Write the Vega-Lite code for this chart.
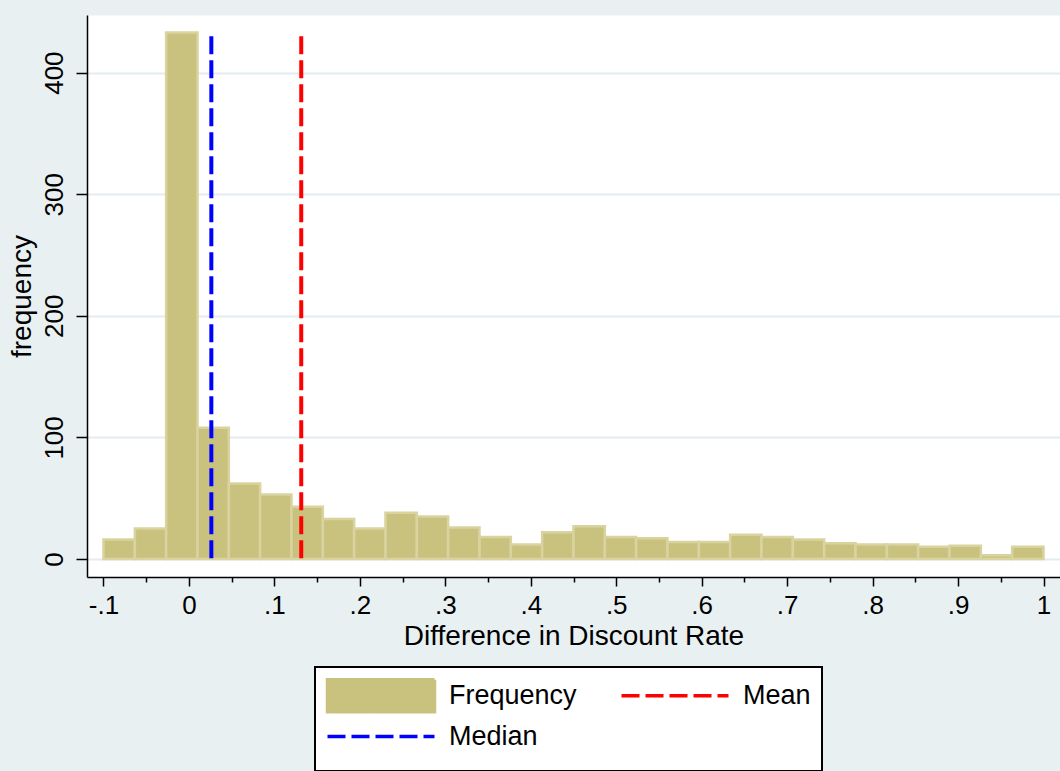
{
  "$schema": "https://vega.github.io/schema/vega-lite/v6.json",
  "width": 973,
  "height": 562,
  "autosize": {"type": "none"},
  "padding": {"left": 87, "top": 15, "right": 0, "bottom": 194},
  "background": "#E8F0F2",
  "config": {
    "view": {"fill": "white", "stroke": "transparent"},
    "font": "Liberation Sans"
  },
  "datasets": {
    "bins": [
      {"bin_start": -0.1, "bin_end": -0.0633, "count": 16},
      {"bin_start": -0.0633, "bin_end": -0.0267, "count": 25},
      {"bin_start": -0.0267, "bin_end": 0.01, "count": 433},
      {"bin_start": 0.01, "bin_end": 0.0467, "count": 108},
      {"bin_start": 0.0467, "bin_end": 0.0833, "count": 62},
      {"bin_start": 0.0833, "bin_end": 0.12, "count": 53},
      {"bin_start": 0.12, "bin_end": 0.1567, "count": 43},
      {"bin_start": 0.1567, "bin_end": 0.1933, "count": 33},
      {"bin_start": 0.1933, "bin_end": 0.23, "count": 25},
      {"bin_start": 0.23, "bin_end": 0.2667, "count": 38},
      {"bin_start": 0.2667, "bin_end": 0.3033, "count": 35},
      {"bin_start": 0.3033, "bin_end": 0.34, "count": 26},
      {"bin_start": 0.34, "bin_end": 0.3767, "count": 18},
      {"bin_start": 0.3767, "bin_end": 0.4133, "count": 12},
      {"bin_start": 0.4133, "bin_end": 0.45, "count": 22},
      {"bin_start": 0.45, "bin_end": 0.4867, "count": 27},
      {"bin_start": 0.4867, "bin_end": 0.5233, "count": 18},
      {"bin_start": 0.5233, "bin_end": 0.56, "count": 17},
      {"bin_start": 0.56, "bin_end": 0.5967, "count": 14},
      {"bin_start": 0.5967, "bin_end": 0.6333, "count": 14},
      {"bin_start": 0.6333, "bin_end": 0.67, "count": 20},
      {"bin_start": 0.67, "bin_end": 0.7067, "count": 18},
      {"bin_start": 0.7067, "bin_end": 0.7433, "count": 16},
      {"bin_start": 0.7433, "bin_end": 0.78, "count": 13},
      {"bin_start": 0.78, "bin_end": 0.8167, "count": 12},
      {"bin_start": 0.8167, "bin_end": 0.8533, "count": 12},
      {"bin_start": 0.8533, "bin_end": 0.89, "count": 10},
      {"bin_start": 0.89, "bin_end": 0.9267, "count": 11},
      {"bin_start": 0.9267, "bin_end": 0.9633, "count": 3},
      {"bin_start": 0.9633, "bin_end": 1.0, "count": 10}
    ],
    "stats": [
      {"stat": "Mean", "value": 0.1314, "top": 430, "bottom": 0},
      {"stat": "Median", "value": 0.0262, "top": 430, "bottom": 0}
    ]
  },
  "layer": [
    {
      "data": {"name": "bins"},
      "mark": {"type": "bar", "orient": "vertical", "stroke": "#D9D3A0", "strokeWidth": 2.5, "opacity": 1},
      "encoding": {
        "x": {
          "field": "bin_start",
          "type": "quantitative",
          "scale": {"domain": [-0.1193, 1.0193], "nice": false, "zero": false, "padding": 0},
          "axis": {
            "orient": "bottom",
            "values": [-0.1, 0, 0.1, 0.2, 0.3, 0.4, 0.5, 0.6, 0.7, 0.8, 0.9, 1],
            "labelExpr": "datum.value == 0 ? '0' : datum.value == 1 ? '1' : (datum.value < 0 ? '-' : '') + replace(format(abs(datum.value), '.1f'), '0.', '.')",
            "grid": false,
            "tickSize": 9,
            "tickWidth": 1.5,
            "tickColor": "black",
            "domainColor": "black",
            "domainWidth": 1.5,
            "labelFontSize": 26,
            "labelColor": "black",
            "labelPadding": 6,
            "labelFlush": false,
            "labelOverlap": false,
            "title": "Difference in Discount Rate",
            "titleFontSize": 28,
            "titleFontWeight": "normal",
            "titleColor": "black",
            "titlePadding": 4
          }
        },
        "x2": {"field": "bin_end"},
        "y": {
          "field": "count",
          "type": "quantitative",
          "scale": {"domain": [-14.8, 447.4], "nice": false, "zero": false, "padding": 0},
          "axis": {
            "values": [0, 100, 200, 300, 400],
            "grid": true,
            "gridColor": "#E3ECEF",
            "gridWidth": 2,
            "tickSize": 11,
            "tickWidth": 1.5,
            "tickColor": "black",
            "domainColor": "black",
            "domainWidth": 1.5,
            "labelAngle": -90,
            "labelAlign": "center",
            "labelBaseline": "alphabetic",
            "labelFontSize": 26,
            "labelColor": "black",
            "labelPadding": 14,
            "labelFlush": false,
            "title": "frequency",
            "titleFontSize": 28,
            "titleFontWeight": "normal",
            "titleColor": "black",
            "titlePadding": 5
          }
        },
        "y2": {"datum": 0},
        "color": {
          "datum": "Frequency",
          "type": "nominal",
          "title": null,
          "scale": {"domain": ["Frequency", "Mean", "Median"], "range": ["#C9C27F", "#FF0000", "#0000FF"]},
          "legend": {
            "title": null,
            "orient": "none",
            "legendX": 228,
            "legendY": 652,
            "direction": "horizontal",
            "columns": 2,
            "columnPadding": 37,
            "rowPadding": -8,
            "symbolSize": 11449,
            "symbolType": "stroke",
            "labelFontSize": 27,
            "labelColor": "black",
            "labelOffset": 16,
            "labelLimit": 0,
            "padding": 11,
            "strokeColor": "black",
            "fillColor": "white",
            "encode": {
              "symbols": {
                "update": {
                  "x": {"value": 55},
                  "y": {"value": 17.5},
                  "shape": {"signal": "datum.value === 'Frequency' ? 'M-1,-0.3H1V0.3H-1Z' : 'M-1,-0.3M-1,0H1M1,0.3'"},
                  "fill": {"signal": "datum.value === 'Frequency' ? '#C9C27F' : 'transparent'"},
                  "stroke": {"signal": "datum.value === 'Frequency' ? '#D9D3A0' : (datum.value === 'Mean' ? '#FF0000' : '#0000FF')"},
                  "strokeWidth": {"value": 3.5},
                  "strokeDash": {"signal": "datum.value === 'Frequency' ? [1, 0] : [18, 6]"},
                  "opacity": {"value": 1}
                }
              },
              "labels": {"update": {"x": {"value": 123}, "y": {"value": 17.5}}},
              "legend": {"update": {"strokeWidth": {"value": 2}}}
            }
          }
        }
      }
    },
    {
      "data": {"name": "stats"},
      "mark": {"type": "rule", "strokeWidth": 4, "strokeDash": [18, 6]},
      "encoding": {
        "x": {
          "field": "value",
          "type": "quantitative",
          "axis": {
            "orient": "bottom",
            "values": [-0.05, 0.05, 0.15, 0.25, 0.35, 0.45, 0.55, 0.65, 0.75, 0.85, 0.95],
            "labels": false,
            "domain": false,
            "grid": false,
            "tickSize": 5,
            "tickWidth": 1.5,
            "tickColor": "black",
            "title": null
          }
        },
        "y": {"field": "top", "type": "quantitative"},
        "y2": {"field": "bottom"},
        "color": {
          "field": "stat",
          "type": "nominal",
          "title": null,
          "legend": {
            "title": null,
            "orient": "none",
            "legendX": 228,
            "legendY": 652,
            "direction": "horizontal",
            "columns": 2,
            "columnPadding": 37,
            "rowPadding": -8,
            "symbolSize": 11449,
            "symbolType": "stroke",
            "labelFontSize": 27,
            "labelColor": "black",
            "labelOffset": 16,
            "labelLimit": 0,
            "padding": 11,
            "strokeColor": "black",
            "fillColor": "white",
            "encode": {
              "symbols": {
                "update": {
                  "x": {"value": 55},
                  "y": {"value": 17.5},
                  "shape": {"signal": "datum.value === 'Frequency' ? 'M-1,-0.3H1V0.3H-1Z' : 'M-1,-0.3M-1,0H1M1,0.3'"},
                  "fill": {"signal": "datum.value === 'Frequency' ? '#C9C27F' : 'transparent'"},
                  "stroke": {"signal": "datum.value === 'Frequency' ? '#D9D3A0' : (datum.value === 'Mean' ? '#FF0000' : '#0000FF')"},
                  "strokeWidth": {"value": 3.5},
                  "strokeDash": {"signal": "datum.value === 'Frequency' ? [1, 0] : [18, 6]"},
                  "opacity": {"value": 1}
                }
              },
              "labels": {"update": {"x": {"value": 123}, "y": {"value": 17.5}}},
              "legend": {"update": {"strokeWidth": {"value": 2}}}
            }
          }
        }
      }
    }
  ],
  "resolve": {"axis": {"x": "independent"}}
}
